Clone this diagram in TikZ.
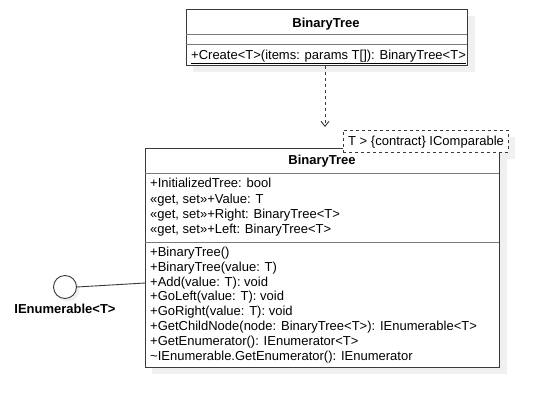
\documentclass[tikz,border=0pt]{standalone}
\usepackage{fontspec}
\setmainfont{Liberation Sans}
\usetikzlibrary{arrows.meta}
\definecolor{bordc}{HTML}{3A3A3A}
\definecolor{sepc}{HTML}{7A7A7A}
\definecolor{shadc}{HTML}{F0F0F0}
\tikzset{
  classbox/.style={draw=bordc, line width=1pt, fill=white, rectangle, inner sep=0pt},
  shad/.style={fill=shadc, draw=none},
  sepline/.style={draw=sepc, line width=1pt},
  member/.style={anchor=base west, inner sep=0pt, font=\fontsize{13}{14}\selectfont},
  title/.style={anchor=base, inner sep=0pt, font=\fontsize{13}{14}\selectfont\bfseries},
  dep/.style={draw=bordc, line width=0.9pt, dash pattern=on 3pt off 3pt, -{Straight Barb[length=5pt,width=8pt,line width=0.9pt]}},
  tmpl/.style={draw=bordc, line width=0.9pt, dash pattern=on 3pt off 3pt, fill=white, rectangle, inner sep=0pt},
}
\begin{document}
\begin{tikzpicture}[x=1pt,y=-1pt]
\useasboundingbox (0,0) rectangle (549,408);
% shadows
\fill[shad] (193,16) rectangle (475,72);
\fill[shad] (152,155) rectangle (507,374);
\fill[shad] (350,137) rectangle (515,159);
\fill[shad] (68,290) circle (11.5);
% top class
\node[classbox, minimum width=281pt, minimum height=56pt, anchor=north west] (top) at (186,9) {};
\draw[sepline] (186,34) -- (467,34);
\draw[sepline] (186,44) -- (467,44);
\node[title] (toptitle) at (326,27.5) {BinaryTree};
\node[member] (create) at (191,59.5) {\underline{+Create<T>(items: params T[]): BinaryTree<T>}};
% main class
\node[classbox, minimum width=354pt, minimum height=219pt, anchor=north west] (main) at (145,148) {};
\draw[sepline] (145,173) -- (499,173);
\draw[sepline] (145,242) -- (499,242);
\node[title] (maintitle) at (322,164.5) {BinaryTree};
\node[member] (a1) at (150,187.5) {+InitializedTree: bool};
\node[member] (a2) at (150,203) {«get, set»+Value: T};
\node[member] (a3) at (150,218) {«get, set»+Right: BinaryTree<T>};
\node[member] (a4) at (150,233) {«get, set»+Left: BinaryTree<T>};
\node[member] (m1) at (150,256.5) {+BinaryTree()};
\node[member] (m2) at (150,271.3) {+BinaryTree(value: T)};
\node[member] (m3) at (150,286.1) {+Add(value: T): void};
\node[member] (m4) at (150,300.9) {+GoLeft(value: T): void};
\node[member] (m5) at (150,315.7) {+GoRight(value: T): void};
\node[member] (m6) at (150,330.5) {+GetChildNode(node: BinaryTree<T>): IEnumerable<T>};
\node[member] (m7) at (150,345.3) {+GetEnumerator(): IEnumerator<T>};
\node[member] (m8) at (150,360.1) {\textasciitilde IEnumerable.GetEnumerator(): IEnumerator};
% template box
\node[tmpl, minimum width=165pt, minimum height=22pt, anchor=north west] (tp) at (343,130) {};
\node[member] (tptext) at (348,145) {T > \{contract\} IComparable};
% dependency arrow
\coordinate (arrowend) at (325,127);
\draw[dep] (top.south -| arrowend) -- (arrowend);
% lollipop
\node[draw=bordc, line width=0.9pt, fill=white, circle, minimum size=23pt, inner sep=0pt] (lol) at (65,287) {};
\coordinate (lolend) at (145,283);
\draw[draw=bordc, line width=0.9pt] (lol.east) -- (lolend);
\node[title] (lollabel) at (65,313.5) {IEnumerable<T>};
\end{tikzpicture}
\end{document}
